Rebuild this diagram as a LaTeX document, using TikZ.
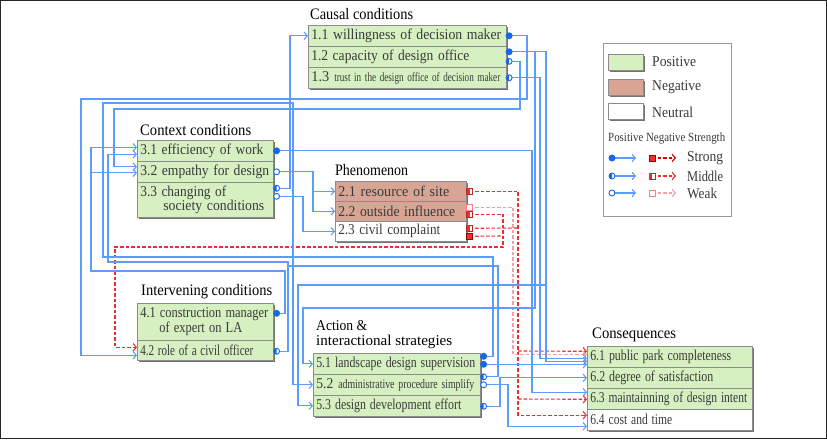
\documentclass[tikz,border=0pt]{standalone}
\usepackage{fontspec}
\setmainfont{Liberation Serif}
\usepackage{graphicx}
\usetikzlibrary{arrows.meta,shadows,calc}
\definecolor{posg}{HTML}{D6F0C2}
\definecolor{negr}{HTML}{D8A594}
\definecolor{lineb}{HTML}{5B9DFF}
\definecolor{dotb}{HTML}{1569E8}
\definecolor{redd}{HTML}{EE2E2E}
\definecolor{pinkd}{HTML}{F2A0A0}
\definecolor{txtc}{HTML}{3A3A3A}
\newcommand\tw[2]{\resizebox{#1pt}{\height}{#2}}
\newcommand\dS[1]{\fill[dotb] (#1) circle (3.5pt);}
\newcommand\dM[1]{\filldraw[draw=dotb,fill=white,line width=0.9pt] (#1) circle (3pt); \fill[dotb] (#1) ++(0pt,3pt) arc[start angle=90,end angle=270,radius=3pt] -- cycle;}
\newcommand\dW[1]{\filldraw[draw=dotb,fill=white,line width=0.9pt] (#1) circle (3pt);}
\newcommand\sS[1]{\filldraw[fill=redd,draw=red!60!black,line width=0.6pt] (#1) ++(-3pt,-3pt) rectangle ++(6pt,6pt);}
\newcommand\sM[1]{\filldraw[fill=white,draw=redd!80!black,line width=0.6pt] (#1) ++(-3pt,-3pt) rectangle ++(6pt,6pt); \fill[redd] (#1) ++(-3pt,-3pt) rectangle ++(3.2pt,6pt);}
\newcommand\sW[1]{\filldraw[fill=white,draw=pinkd!80!red,line width=0.6pt] (#1) ++(-3pt,-3pt) rectangle ++(6pt,6pt);}
\begin{document}
\begin{tikzpicture}[x=1pt,y=-1pt,
  cell/.style={draw=black!45, line width=0.6pt, anchor=north west, inner xsep=3pt, inner ysep=0pt, align=left, text=txtc, font=\fontsize{15}{14}\selectfont, drop shadow={shadow xshift=1.5pt,shadow yshift=-1.5pt,fill=black!55,opacity=1}},
  posbox/.style={cell,fill=posg},
  negbox/.style={cell,fill=negr},
  neubox/.style={cell,fill=white},
  swatch/.style={draw=black!45,line width=0.6pt,anchor=north west,minimum width=35pt,minimum height=16pt,inner sep=0pt,drop shadow={shadow xshift=1.5pt,shadow yshift=-1.5pt,fill=black!55,opacity=1}},
  ttl/.style={anchor=west, inner sep=0pt, text=black, align=left, font=\fontsize{16}{15}\selectfont},
  lab/.style={anchor=west, inner sep=0pt, text=txtc, font=\fontsize{15}{14}\selectfont},
  bl/.style={draw=lineb, line width=1.1pt, -{Straight Barb[length=3.2pt,width=7.5pt]}},
  bln/.style={draw=lineb, line width=1.1pt},
  rd/.style={draw=redd, line width=1.1pt, dash pattern=on 3.5pt off 2pt, -{Straight Barb[length=3.2pt,width=7.5pt]}},
  rdn/.style={draw=redd, line width=1.1pt, dash pattern=on 3.5pt off 2pt},
  pk/.style={draw=pinkd, line width=1.1pt, dash pattern=on 3.5pt off 2pt, -{Straight Barb[length=3.2pt,width=7.5pt]}},
]
\useasboundingbox (0,0) rectangle (827,439);
\fill[white] (0,0) rectangle (827,439);
\draw[black!85,line width=1.2pt] (0.6,0.6) rectangle (826.4,438.4);

% ---------- titles ----------
\node[ttl] (t1) at (310,14) {\tw{103}{Causal conditions}};
\node[ttl] (t3) at (140,130) {\tw{111}{Context conditions}};
\node[ttl] (t2) at (335,170) {\tw{73}{Phenomenon}};
\node[ttl] (t4) at (141,292) {\tw{131}{Intervening conditions}};
\node[ttl,font=\fontsize{15}{14}\selectfont] (t5a) at (316,326) {\tw{51}{Action \&}};
\node[ttl,font=\fontsize{15}{14}\selectfont] (t5b) at (316,342) {\tw{136}{interactional strategies}};
\node[ttl] (t6) at (592,335) {\tw{84}{Consequences}};

% ---------- boxes ----------
\node[posbox,text width=192pt,minimum height=21pt] (n11) at (308,25) {\tw{190}{1.1 willingness of decision maker}};
\node[posbox,text width=192pt,minimum height=21pt] (n12) at (308,46) {\tw{158}{1.2 capacity of design office}};
\node[posbox,text width=192pt,minimum height=21pt] (n13) at (308,67) {\tw{18}{1.3} \tw{166}{\fontsize{12.5}{12}\selectfont trust in the design office of decision maker}};

\node[posbox,text width=130pt,minimum height=21pt] (n31) at (137,140) {\tw{123}{3.1 efficiency of work}};
\node[posbox,text width=130pt,minimum height=21pt] (n32) at (137,161) {\tw{129}{3.2 empathy for design}};
\node[posbox,text width=130pt,minimum height=35pt] (n33) at (137,182) {\tw{86}{3.3 changing of}\\\hspace*{23pt}\tw{101}{society conditions}};

\node[negbox,text width=125pt,minimum height=20pt] (n21) at (335,181) {\tw{111}{2.1 resource of site}};
\node[negbox,text width=125pt,minimum height=20pt] (n22) at (335,201) {\tw{117}{2.2 outside influence}};
\node[neubox,text width=125pt,minimum height=20pt] (n23) at (335,221) {\tw{102}{2.3 civil complaint}};

\node[posbox,text width=130pt,minimum height=37pt] (n41) at (137,303) {\tw{128}{4.1 construction manager}\\[1pt]\hspace*{19pt}\tw{83}{of expert on LA}};
\node[posbox,text width=130pt,minimum height=20pt] (n42) at (137,340) {\tw{113}{4.2 role of a civil officer}};

\node[posbox,text width=161pt,minimum height=21pt] (n51) at (313,353) {\tw{159}{5.1 landscape design supervision}};
\node[posbox,text width=161pt,minimum height=21pt] (n52) at (313,374) {\mbox{\tw{17}{5.2} \tw{136}{\fontsize{13}{12}\selectfont administrative procedure simplify}}};
\node[posbox,text width=161pt,minimum height=21pt] (n53) at (313,395) {\tw{145}{5.3 design development effort}};

\node[posbox,text width=159pt,minimum height=21pt] (n61) at (587,346) {\tw{141}{6.1 public park completeness}};
\node[posbox,text width=159pt,minimum height=21pt] (n62) at (587,367) {\tw{123}{6.2 degree of satisfaction}};
\node[posbox,text width=159pt,minimum height=21pt] (n63) at (587,388) {\tw{157}{6.3 maintainning of design intent}};
\node[neubox,text width=159pt,minimum height=21pt] (n64) at (587,409) {\tw{82}{6.4 cost and time}};

% ---------- legend ----------
\node[draw=black!40,line width=0.8pt,anchor=north west,minimum width=128pt,minimum height=173pt,inner sep=0pt] (leg) at (603,43) {};
\node[swatch,fill=posg] (sp) at (608,54) {};
\node[swatch,fill=negr] (sn) at (608,79) {};
\node[swatch,fill=white] (su) at (608,103) {};
\node[lab] (lp) at (652,62) {\tw{44}{Positive}};
\node[lab] (ln) at (652,87) {\tw{49}{Negative}};
\node[lab] (lu) at (652,112) {\tw{41}{Neutral}};
\node[lab,font=\fontsize{12.5}{12}\selectfont] (lh) at (608,139) {\tw{117}{Positive Negative Strength}};
\node[lab] (ls1) at (687,158) {\tw{36}{Strong}};
\node[lab] (ls2) at (687,176) {\tw{36}{Middle}};
\node[lab] (ls3) at (687,193) {\tw{30}{Weak}};
\coordinate (lb1) at (612,158); \coordinate (lb1e) at (636,158);
\coordinate (lb2) at (612,176); \coordinate (lb2e) at (636,176);
\coordinate (lb3) at (612,193); \coordinate (lb3e) at (636,193);
\coordinate (lr1) at (652,158); \coordinate (lr1e) at (676,158);
\coordinate (lr2) at (652,176); \coordinate (lr2e) at (676,176);
\coordinate (lr3) at (652,193); \coordinate (lr3e) at (676,193);
\draw[bl] (lb1) -- (lb1e); \draw[bl] (lb2) -- (lb2e); \draw[bl] (lb3) -- (lb3e);
\draw[rd,draw=red!85!black] (lr1) -- (lr1e); \draw[rd] (lr2) -- (lr2e); \draw[pk] (lr3) -- (lr3e);

% ---------- ports ----------
\coordinate (o11) at ($(n11.east)+(2.5,0)$);
\coordinate (o12a) at ($(n12.east)+(2.5,-5)$);
\coordinate (o12b) at ($(n12.east)+(2.5,4.5)$);
\coordinate (o13) at ($(n13.east)+(2.5,0)$);
\coordinate (o31) at ($(n31.east)+(3,0)$);
\coordinate (o32) at ($(n32.east)+(3,0)$);
\coordinate (o33a) at ($(n33.east)+(3,-11.5)$);
\coordinate (o33b) at ($(n33.east)+(3,-3.5)$);
\coordinate (o41) at ($(n41.east)+(3,-8.5)$);
\coordinate (o42) at ($(n42.east)+(3,1)$);
\coordinate (o51a) at ($(n51.east)+(3,-7.5)$);
\coordinate (o51b) at ($(n51.east)+(3,0.5)$);
\coordinate (o52a) at ($(n52.east)+(3,-8)$);
\coordinate (o52b) at ($(n52.east)+(3,0)$);
\coordinate (o53) at ($(n53.east)+(3,0.5)$);
\coordinate (r21) at ($(n21.east)+(3,0)$);
\coordinate (r22a) at ($(n22.east)+(3,-4)$);
\coordinate (r22b) at ($(n22.east)+(3,3)$);
\coordinate (r23a) at ($(n23.east)+(3,-3)$);
\coordinate (r23b) at ($(n23.east)+(3,5)$);
\coordinate (i31a) at ($(n31.west)+(0,-3.5)$);
\coordinate (i31b) at ($(n31.west)+(0,3.5)$);
\coordinate (i32a) at ($(n32.west)+(0,-5)$);
\coordinate (i32b) at ($(n32.west)+(0,1)$);
\coordinate (i42r) at ($(n42.west)+(0,-3)$);
\coordinate (i42b) at ($(n42.west)+(0,5)$);
\coordinate (i61r) at ($(n61.west)+(0,-5.5)$);
\coordinate (i61p) at ($(n61.west)+(0,-2)$);
\coordinate (i61b) at ($(n61.west)+(0,1.5)$);
\coordinate (i61c) at ($(n61.west)+(0,4.5)$);
\coordinate (i61d) at ($(n61.west)+(0,7.5)$);
\coordinate (i63b) at ($(n63.west)+(0,-6.5)$);
\coordinate (i63r) at ($(n63.west)+(0,0.5)$);
\coordinate (i64r) at ($(n64.west)+(0,-4.5)$);
\coordinate (i64b) at ($(n64.west)+(0,6.5)$);

% ---------- red dashed connectors ----------
\draw[rd] (r21) -| (518,380) |- (i64r);
\draw[rd] (518,351) -- (i61r);
\draw[rd] (518,399) -- (i63r);
\draw[rdn] (r23a) -- (518,228);
\draw[pk] (r22a) -| (513,300) |- (i61p);
\draw[rd] (r22b) -| (503,247) -| (115,300) |- (i42r);
\draw[rdn] (r23b) -- (503,236);

% ---------- blue connectors ----------
\draw[bl] (o11) -| (527,99) -| (81,300) |- (i42b);
\draw[bl] (o12b) -| (520,109) -| (114,140) |- (i32a);
\draw[bl] (o12a) -| (546,300) |- (i61c);
\draw[bl] (535,51.5) |- (303,308) |- (n51.west);
\draw[bl] (546,285) -| (298,400) |- (n53.west);
\draw[bl] (o13) -| (540,300) |- (i61b);
\draw[bl] (o31) -| (532,300) |- (i63b);
\draw[bl] (o32) -| (313,200) |- (n22.west);
\draw[bl] (313,171.5) |- (n21.west);
\draw[bl] (o33a) -| (290,60) |- (n11.west);
\draw[bl] (o33b) -| (303,220) |- (n23.west);
\draw[bl] (o41) -| (285,271) -| (91,200) |- (i31a);
\draw[bl] (91,200) |- (i32b);
\draw[bl] (o42) -| (288,262) -| (108,200) |- (i31b);
\draw[bl] (o51a) -| (493,257) -| (103,103) -| (293,300) |- (n52.west);
\draw[bln] (o52a) -| (498,266) -- (288,266);
\draw[bl] (o51b) -- (i61d);
\draw[bl] (o52b) -| (508,400) |- (i64b);
\draw[bl] (o53) -| (500,390) |- (n62.west);

% ---------- strength markers ----------
\dS{o11} \dS{o12a} \dM{o12b} \dM{o13}
\dS{o31} \dW{o32} \dM{o33a} \dW{o33b}
\dS{o41} \dM{o42}
\dS{o51a} \dS{o51b} \dM{o52a} \dW{o52b} \dM{o53}
\sM{r21} \sW{r22a} \sM{r22b} \sM{r23a} \sS{r23b}
\dS{lb1} \dM{lb2} \dW{lb3}
\sS{lr1} \sM{lr2} \sW{lr3}
\end{tikzpicture}
\end{document}
